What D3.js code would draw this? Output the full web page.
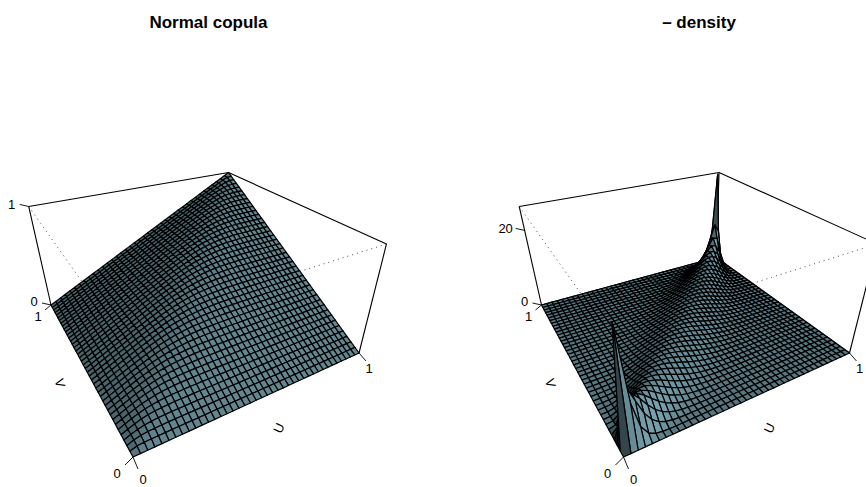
<!DOCTYPE html>
<html>
<head>
<meta charset="utf-8">
<style>
html, body { margin: 0; padding: 0; background: #fff; }
svg { display: block; }
text { font-family: "Liberation Sans", Arial, sans-serif; fill: #000; }
</style>
<script src="https://cdn.jsdelivr.net/npm/d3@7"></script>
</head>
<body>
<svg id="chart" width="866" height="487"></svg>
<script>
// copula heights in thousandths, lower triangle: copulaRows[i][j] for j <= i
const copulaRows = [
[0],
[0,18],
[0,23,37],
[0,24,44,57],
[0,25,47,65,78],
[0,25,49,70,87,99],
[0,25,50,72,92,108,121],
[0,25,50,74,95,115,130,143],
[0,25,50,74,98,119,137,153,165],
[0,25,50,75,99,121,142,160,175,188],
[0,25,50,75,99,123,145,165,183,198,210],
[0,25,50,75,100,124,147,168,188,205,221,234],
[0,25,50,75,100,124,148,171,192,211,229,244,257],
[0,25,50,75,100,125,149,172,195,216,235,252,267,280],
[0,25,50,75,100,125,149,173,197,219,240,259,276,291,304],
[0,25,50,75,100,125,150,174,198,221,243,264,283,300,315,328],
[0,25,50,75,100,125,150,175,199,223,246,267,288,307,324,339,352],
[0,25,50,75,100,125,150,175,199,223,247,270,291,312,331,348,363,376],
[0,25,50,75,100,125,150,175,200,224,248,272,294,316,336,355,372,387,401],
[0,25,50,75,100,125,150,175,200,225,249,273,296,319,341,361,380,397,412,425],
[0,25,50,75,100,125,150,175,200,225,249,274,298,321,344,365,386,404,422,437,450],
[0,25,50,75,100,125,150,175,200,225,250,274,299,323,346,368,390,410,429,446,462,475],
[0,25,50,75,100,125,150,175,200,225,250,275,299,324,348,371,393,415,435,454,472,487,501],
[0,25,50,75,100,125,150,175,200,225,250,275,300,324,348,372,396,418,440,460,479,497,512,526],
[0,25,50,75,100,125,150,175,200,225,250,275,300,325,349,373,397,421,443,465,486,505,522,538,552],
[0,25,50,75,100,125,150,175,200,225,250,275,300,325,350,374,398,422,446,468,490,511,530,548,564,578],
[0,25,50,75,100,125,150,175,200,225,250,275,300,325,350,375,399,423,448,471,494,516,536,556,574,590,604],
[0,25,50,75,100,125,150,175,200,225,250,275,300,325,350,375,400,424,449,473,496,519,541,562,582,600,616,630],
[0,25,50,75,100,125,150,175,200,225,250,275,300,325,350,375,400,425,449,474,498,521,544,566,588,608,626,642,657],
[0,25,50,75,100,125,150,175,200,225,250,275,300,325,350,375,400,425,450,474,499,523,547,570,592,614,634,652,669,684],
[0,25,50,75,100,125,150,175,200,225,250,275,300,325,350,375,400,425,450,475,499,524,548,572,596,618,640,660,679,696,710],
[0,25,50,75,100,125,150,175,200,225,250,275,300,325,350,375,400,425,450,475,500,525,549,573,598,621,644,666,686,705,723,738],
[0,25,50,75,100,125,150,175,200,225,250,275,300,325,350,375,400,425,450,475,500,525,550,574,599,623,647,670,692,713,733,750,765],
[0,25,50,75,100,125,150,175,200,225,250,275,300,325,350,375,400,425,450,475,500,525,550,575,600,624,648,672,696,718,740,760,778,793],
[0,25,50,75,100,125,150,175,200,225,250,275,300,325,350,375,400,425,450,475,500,525,550,575,600,625,649,674,698,722,745,767,787,805,821],
[0,25,50,75,100,125,150,175,200,225,250,275,300,325,350,375,400,425,450,475,500,525,550,575,600,625,650,675,699,724,748,771,794,815,833,849],
[0,25,50,75,100,125,150,175,200,225,250,275,300,325,350,375,400,425,450,475,500,525,550,575,600,625,650,675,700,725,749,774,798,820,842,862,878],
[0,25,50,75,100,125,150,175,200,225,250,275,300,325,350,375,400,425,450,475,500,525,550,575,600,625,650,675,700,725,750,775,799,824,847,870,890,907],
[0,25,50,75,100,125,150,175,200,225,250,275,300,325,350,375,400,425,450,475,500,525,550,575,600,625,650,675,700,725,750,775,800,825,850,874,897,919,937],
[0,25,50,75,100,125,150,175,200,225,250,275,300,325,350,375,400,425,450,475,500,525,550,575,600,625,650,675,700,725,750,775,800,825,850,875,900,924,948,968],
[0,25,50,75,100,125,150,175,200,225,250,275,300,325,350,375,400,425,450,475,500,525,550,575,600,625,650,675,700,725,750,775,800,825,850,875,900,925,950,975,1000]
];

// density heights, a quarter of the square: densityRows[i][j - i] for i <= j, i + j <= 40
// the outer edge of the grid lies flat, rows stop where the surface reaches the floor
const densityRows = [
[],
[25.6,9.73,3.62,1.30,.46,.17,.06,.02,.01],
[11.96,8.37,4.86,2.59,1.32,.66,.32,.15,.07,.03,.01],
[8.79,7.01,4.86,3.11,1.90,1.10,.62,.34,.18,.10,.05,.02,.01],
[7.13,6.06,4.62,3.29,2.21,1.42,.88,.53,.31,.18,.10,.05,.03,.01,.01],
[6.10,5.39,4.37,3.31,2.37,1.64,1.09,.70,.44,.26,.16,.09,.05,.03,.01,.01],
[5.40,4.90,4.12,3.25,2.45,1.78,1.24,.84,.55,.35,.21,.13,.07,.04,.02,.01,.01],
[4.90,4.51,3.89,3.18,2.48,1.86,1.35,.94,.64,.42,.27,.16,.10,.06,.03,.02,.01],
[4.52,4.22,3.70,3.10,2.49,1.92,1.43,1.03,.71,.48,.31,.20,.12,.07,.04,.02,.01,.01],
[4.23,3.98,3.56,3.03,2.49,1.96,1.49,1.10,.78,.54,.36,.23,.14,.08,.05,.03,.01,.01],
[3.99,3.79,3.43,2.97,2.47,1.99,1.53,1.15,.83,.58,.39,.25,.16,.10,.06,.03,.02,.01],
[3.81,3.64,3.32,2.90,2.45,1.99,1.56,1.19,.87,.61,.42,.27,.17,.10,.06,.03,.02,.01],
[3.66,3.51,3.23,2.86,2.43,2.00,1.59,1.22,.90,.64,.44,.29,.18,.11,.06,.03,.02],
[3.54,3.41,3.16,2.81,2.41,2.00,1.60,1.23,.92,.66,.45,.30,.19,.11,.06],
[3.44,3.33,3.10,2.78,2.41,2.01,1.61,1.25,.93,.67,.46,.30,.19],
[3.37,3.26,3.05,2.75,2.39,2.00,1.61,1.26,.94,.68,.46],
[3.30,3.22,3.02,2.73,2.38,2.00,1.62,1.27,.95],
[3.26,3.18,2.99,2.72,2.37,2.00,1.62],
[3.23,3.16,2.98,2.70,2.37],
[3.21,3.15,2.97],
[3.20]
];

const gridSize = 40;
const axisTitles = ["U", "V"];
const panelTitles = ["Normal copula", "\u2013 density"];
const copulaZTicks = [0, 1];
const densityZTicks = [0, 20];
const unitTicks = [0, 1];

function copulaAt(i, j) {
	return copulaRows[Math.max(i, j)][Math.min(i, j)] / 1000;
}

function densityAt(i, j) {
	var a = Math.min(i, j), b = Math.max(i, j);
	if (a + b > gridSize) {
		var t = a;
		a = gridSize - b;
		b = gridSize - t;
	}
	return densityRows[a][b - a] || 0;
}

// camera fitted to the box corners of the picture, unit cube to pixels
const camX = [342.17, -54.48, -40, 133];
const camY = [10.23, 12.61, -192.5, 457];
const camW = [.3236, .5397, -.1976, 1];

function project(u, v, w) {
	var h = camW[0] * u + camW[1] * v + camW[2] * w + camW[3];
	return [
		(camX[0] * u + camX[1] * v + camX[2] * w + camX[3]) / h,
		(camY[0] * u + camY[1] * v + camY[2] * w + camY[3]) / h
	];
}

const svg = d3.select("#chart");
const gridScale = d3.scaleLinear().domain([0, gridSize]).range([0, 1]);
const lightDir = [.5, -.6, .62];
const baseColor = d3.rgb(120, 162, 175);

function faceColor(a, b, c, d) {
	// normal from the two diagonals, in the R style cube with expand .3
	var p = [2 * (c[0] - a[0]), 2 * (c[1] - a[1]), .6 * (c[2] - a[2])];
	var q = [2 * (d[0] - b[0]), 2 * (d[1] - b[1]), .6 * (d[2] - b[2])];
	var n = [p[1] * q[2] - p[2] * q[1], p[2] * q[0] - p[0] * q[2], p[0] * q[1] - p[1] * q[0]];
	var len = Math.hypot(n[0], n[1], n[2]) || 1;
	var dot = (n[0] * lightDir[0] + n[1] * lightDir[1] + n[2] * lightDir[2]) / len;
	var s = Math.pow((1 + dot) / 2, 1.5);
	return d3.rgb(baseColor.r * s, baseColor.g * s, baseColor.b * s).formatHex();
}

function drawPanel(offset, title, titleX, valueAt, zMax, zTicks) {
	var g = svg.append("g").attr("transform", "translate(" + offset + ",0)");
	var zScale = d3.scaleLinear().domain([0, zMax]).range([0, 1]);
	var line = d3.line();

	function edge(a, b, dash) {
		var e = g.append("path")
			.attr("d", line([project(a[0], a[1], a[2]), project(b[0], b[1], b[2])]))
			.attr("fill", "none")
			.attr("stroke", dash ? "#333" : "#000")
			.attr("stroke-width", dash ? .9 : 1.1);
		if (dash) e.attr("stroke-dasharray", "1 4");
	}

	// back of the box, then front top edges dotted
	edge([0, 1, 0], [0, 1, 1]);
	edge([1, 0, 0], [1, 0, 1]);
	edge([0, 1, 1], [1, 1, 1]);
	edge([1, 1, 1], [1, 0, 1]);
	edge([0, 1, 1], [0, 0, 1], true);
	edge([1, 0, 1], [0, 0, 1], true);
	edge([0, 1, 0], [1, 1, 0]);
	edge([1, 1, 0], [1, 0, 0]);
	edge([1, 1, 0], [1, 1, 1]);

	// faces back to front
	for (var i = gridSize - 1; i >= 0; i--) {
		for (var j = gridSize - 1; j >= 0; j--) {
			var c = [[i, j], [i + 1, j], [i + 1, j + 1], [i, j + 1]].map(function (k) {
				return [gridScale(k[0]), gridScale(k[1]), zScale(valueAt(k[0], k[1]))];
			});
			g.append("path")
				.attr("d", line(c.map(function (k) { return project(k[0], k[1], k[2]); })) + "Z")
				.attr("fill", faceColor(c[0], c[1], c[2], c[3]))
				.attr("stroke", "#000")
				.attr("stroke-width", 1.2)
				.attr("stroke-linejoin", "round");
		}
	}

	function tick(p, dx, dy) {
		g.append("path")
			.attr("d", line([p, [p[0] + dx, p[1] + dy]]))
			.attr("stroke", "#000")
			.attr("fill", "none")
			.attr("stroke-width", .9);
	}

	function label(s, x, y, rot) {
		var t = g.append("text")
			.attr("text-anchor", "middle")
			.attr("dominant-baseline", "central")
			.attr("font-size", 13)
			.text(s);
		t.attr("transform", "translate(" + x + "," + y + ")" + (rot ? " rotate(" + rot + ")" : ""));
	}

	// u axis along the near right edge
	unitTicks.forEach(function (d) {
		var p = project(d, 0, 0);
		tick(p, d ? 7 : 5, d ? 8 : 12);
		label(String(d), p[0] + 10, p[1] + (d ? 16 : 22));
	});
	// v axis along the near left edge
	unitTicks.forEach(function (d) {
		var p = project(0, d, 0);
		tick(p, d ? -6 : -8, d ? 5 : 8);
		label(String(d), p[0] + (d ? -13 : -16), p[1] + (d ? 11 : 16));
	});
	// z axis on the left back corner
	zTicks.forEach(function (d) {
		var p = project(0, 1, zScale(d));
		tick(p, -9, -2);
		label(String(d), p[0] + (d > 1 ? -19 : -17), p[1] - (d ? 2 : 4));
	});

	label(axisTitles[0], 279, 428, -65);
	label(axisTitles[1], 60, 383, 75);

	svg.append("text")
		.attr("x", titleX)
		.attr("y", 28)
		.attr("text-anchor", "middle")
		.attr("font-size", 17)
		.attr("font-weight", "bold")
		.text(title);
}

drawPanel(0, panelTitles[0], 208.5, copulaAt, 1, copulaZTicks);
drawPanel(490.5, panelTitles[1], 699, densityAt, 25.6, densityZTicks);
</script>
</body>
</html>
